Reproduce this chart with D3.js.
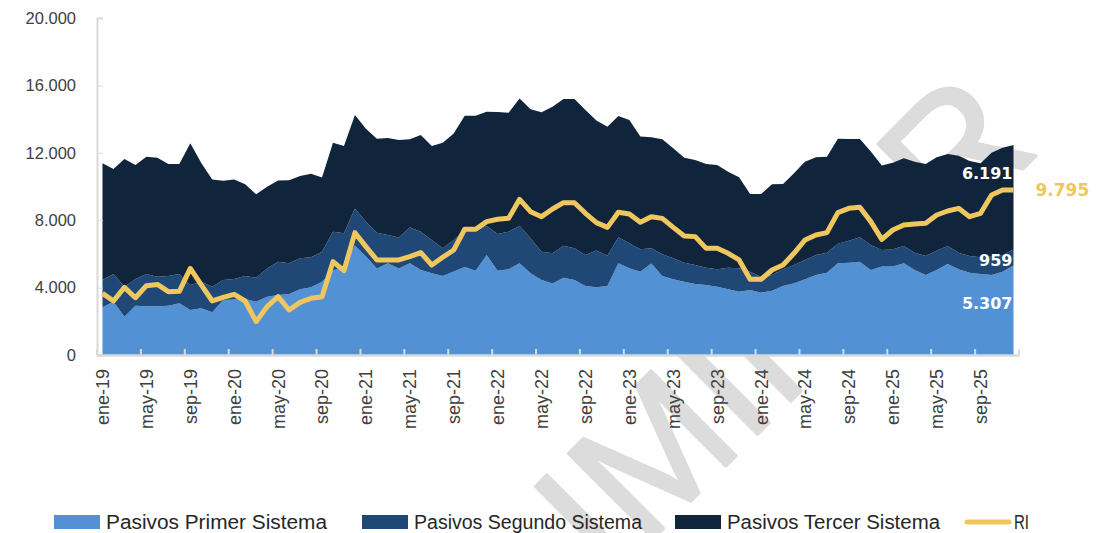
<!DOCTYPE html>
<meta charset="utf-8">
<style>
body { margin: 0; background: #fff; }
.eje text { fill: #404040; }
.eje path, .eje line { stroke: #d9d9d9; }
</style>
<body>
<script src="https://d3js.org/d3.v7.min.js"></script>
<script>

// categorias: meses ene-19 .. dic-25
var meses = ["ene","feb","mar","abr","may","jun","jul","ago","sep","oct","nov","dic"];
var anios = ["19","20","21","22","23","24","25"];
var periodos = [];
anios.forEach(function(a) { meses.forEach(function(m) { periodos.push(m + "-" + a); }); });

// series
var primer = [2830,3165,2275,2930,2890,2890,2930,3070,2670,2770,2530,3260,
              3300,3320,3165,3460,3560,3620,3900,4020,4350,5000,5300,6500,
              5840,5140,5440,5140,5440,5050,4850,4690,4950,5220,5005,5935,
              5005,5085,5440,4850,4450,4250,4590,4450,4095,4015,4095,5440,
              5145,4945,5430,4690,4490,4350,4215,4155,4055,3900,3760,3860,
              3700,3820,4095,4255,4490,4750,4885,5440,5480,5540,5045,5245,
              5245,5440,5045,4750,5045,5400,5085,4885,4805,4750,4945,5307];
var segundo = [1620,1635,1780,1580,1910,1760,1760,1730,1480,1580,1525,1190,
               1210,1370,1425,1680,1980,1820,1840,1780,1780,2320,1920,2200,
               2070,2120,1680,1840,2120,2270,1975,1640,1875,2150,2375,1720,
               2175,2235,2235,2075,1685,1785,1900,1880,1840,2180,1800,1545,
               1480,1325,900,1285,1245,1130,1125,1030,1030,1285,1385,1085,
               950,930,990,1085,1150,1185,1190,1160,1305,1445,1485,985,
               1025,1030,1030,1125,1150,1070,990,990,990,1085,990,959];
var tercer = [6930,6240,7575,6770,6970,7060,6645,6535,8410,7050,6365,5895,
              5910,5440,4945,4850,4810,4930,4890,4960,4400,5280,5180,5540,
              5510,5580,5760,5780,5240,5736,5575,6270,6325,6830,6820,6785,
              7240,7060,7555,7655,8265,8705,8700,8860,8605,7715,7655,7200,
              7325,6690,6590,6825,6530,6230,6235,6150,6190,5695,5400,4610,
              4905,5380,5065,5440,5835,5795,5695,6240,6035,5835,5540,5010,
              5145,5200,5400,5460,5535,5460,5755,5640,5580,6175,6370,6191];
var ri = [3660,3205,4015,3400,4115,4190,3760,3780,5140,4155,3205,3420,
          3600,3205,1980,2870,3460,2670,3125,3365,3460,5540,5005,7260,
          6430,5640,5640,5640,5835,6075,5340,5800,6230,7470,7460,7915,
          8055,8110,9240,8505,8210,8665,9040,9040,8410,7855,7575,8470,
          8370,7875,8210,8110,7575,7065,7025,6330,6330,6035,5640,4490,
          4490,5045,5340,6035,6825,7120,7260,8450,8705,8765,7915,6865,
          7420,7715,7775,7815,8310,8545,8705,8210,8410,9495,9790,9795];

var yTicks = [0, 4000, 8000, 12000, 16000, 20000];
var series = ["primer", "segundo", "tercer"];
var nombres = ["Pasivos Primer Sistema", "Pasivos Segundo Sistema", "Pasivos Tercer Sistema", "RI"];
var colores = {primer: "#5391d5", segundo: "#1f4877", tercer: "#10243b", ri: "#efc75e"};

var tabla = periodos.map(function(p, i) {
  return {periodo: p, primer: primer[i], segundo: segundo[i], tercer: tercer[i], ri: ri[i]};
});

var W = 1096, H = 533;
var es = d3.formatLocale({decimal: ",", thousands: ".", grouping: [3], currency: ["$", ""]});
var fmt = es.format(",");

var svg = d3.select("body").append("svg")
    .attr("width", W)
    .attr("height", H)
    .style("font-family", "'DejaVu Sans', Verdana, sans-serif");

// marca de agua
svg.append("text")
    .attr("transform", "translate(1042,150) rotate(-45)")
    .attr("text-anchor", "end")
    .style("font-family", "'Liberation Sans', Arial, sans-serif")
    .style("font-size", "175px")
    .style("fill", "#dcdcdc")
    .style("stroke", "#dcdcdc")
    .style("stroke-width", 3)
    .style("stroke-linejoin", "round")
    .text("PRELIMINAR");

var x = d3.scaleBand().domain(periodos).range([97, 1019]);
var xc = function(p) { return x(p) + x.bandwidth() / 2; };
var y = d3.scaleLinear().domain([0, 20000]).range([355, 18]);

var pila = d3.stack().keys(series)(tabla);

var area = d3.area()
    .x(function(d) { return xc(d.data.periodo); })
    .y0(function(d) { return y(d[0]); })
    .y1(function(d) { return y(d[1]); });

svg.selectAll(".capa")
    .data(pila)
  .enter().append("path")
    .attr("class", "capa")
    .attr("d", area)
    .style("fill", function(d) { return colores[d.key]; });

var linea = d3.line()
    .x(function(d) { return xc(d.periodo); })
    .y(function(d) { return y(d.ri); });

svg.append("path")
    .datum(tabla)
    .attr("d", linea)
    .style("fill", "none")
    .style("stroke", colores.ri)
    .style("stroke-width", 5)
    .style("stroke-linejoin", "round");

// eje Y
var ejeY = svg.append("g")
    .attr("class", "eje")
    .attr("transform", "translate(97,0)")
    .call(d3.axisLeft(y).tickValues(yTicks).tickSize(-6).tickPadding(21).tickFormat(fmt));
ejeY.select(".domain").style("stroke-width", 2);
ejeY.selectAll("text")
    .style("font-family", "'Liberation Sans', Arial, sans-serif")
    .style("font-size", "16.5px");

// eje X
var etiquetas = periodos.filter(function(p, i) { return i % 4 === 0; });
var ejeX = svg.append("g")
    .attr("class", "eje")
    .attr("transform", "translate(0,355)")
    .call(d3.axisBottom(x).tickValues(etiquetas).tickSize(0).tickPadding(0));
ejeX.select(".domain").style("stroke-width", 2.5);
ejeX.selectAll("text")
    .attr("transform", "rotate(-90)")
    .attr("text-anchor", "end")
    .attr("x", -14)
    .attr("y", 0)
    .attr("dy", "0.36em")
    .style("font-size", "18px");

var marcas = etiquetas.map(function(p) { return x(p); }).concat([x.range()[1]]);
ejeX.selectAll(".marca")
    .data(marcas)
  .enter().append("line")
    .attr("class", "marca")
    .attr("x1", function(d) { return d; })
    .attr("x2", function(d) { return d; })
    .attr("y1", 0)
    .attr("y2", -6)
    .style("stroke-width", 2);

// etiquetas del ultimo dato
var ult = tabla[tabla.length - 1];
var pUlt = pila.map(function(s) { return s[s.length - 1]; });
var xUlt = xc(ult.periodo);
[0, 1, 2].forEach(function(k) {
  var yy = k === 2 ? y(pUlt[2][1]) + 28 : k === 1 ? y(pUlt[1][1]) + 11 : y(pUlt[0][1] * 0.58);
  svg.append("text")
      .attr("x", xUlt - 1)
      .attr("y", yy)
      .attr("dy", "0.36em")
      .attr("text-anchor", "end")
      .style("font-size", "16px")
      .style("font-weight", "bold")
      .style("fill", "#fff")
      .text(fmt(ult[series[k]]));
});
svg.append("text")
    .attr("x", xUlt + 22)
    .attr("y", y(ult.ri))
    .attr("dy", "0.36em")
    .style("font-size", "17px")
    .style("font-weight", "bold")
    .style("fill", colores.ri)
    .text(fmt(ult.ri));

// leyenda
var leyX = [54, 362, 675, 965];
var leyAncho = [221, 228, 213, 15];
var ley = svg.append("g").attr("transform", "translate(0,522)");
nombres.forEach(function(n, i) {
  var g = ley.append("g").attr("transform", "translate(" + leyX[i] + ",0)");
  if (i < 3) {
    g.append("rect").attr("x", 0).attr("y", -7).attr("width", 46).attr("height", 14)
        .style("fill", colores[series[i]]);
  } else {
    g.append("line").attr("x1", 2).attr("x2", 44).attr("y1", 0).attr("y2", 0)
        .style("stroke", colores.ri).style("stroke-width", 5).style("stroke-linecap", "round");
  }
  g.append("text")
      .attr("x", i < 3 ? 52 : 49)
      .attr("dy", "0.36em")
      .attr("textLength", leyAncho[i])
      .attr("lengthAdjust", "spacingAndGlyphs")
      .style("font-family", "'Liberation Sans', Arial, sans-serif")
      .style("font-size", "20px")
      .style("fill", "#262626")
      .text(n);
});

</script>
</body>
